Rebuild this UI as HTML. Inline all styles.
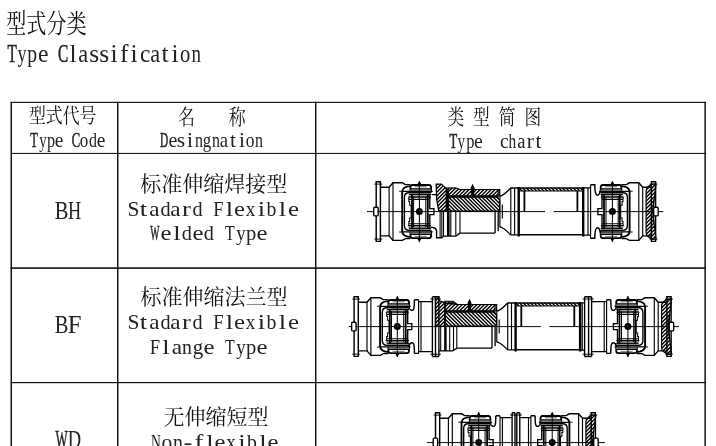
<!DOCTYPE html>
<html lang="zh"><head><meta charset="utf-8"><title>Type Classification</title>
<style>
html,body{margin:0;padding:0;background:#fff;overflow:hidden}
body{width:716px;height:446px}
#p{width:716px;height:446px;position:relative;overflow:hidden;background:#fff;font-family:"Liberation Serif",serif;color:#222}
.h{position:absolute;height:1px;background:#1c1c1c}
.v{position:absolute;width:1px;background:#1c1c1c}
.l{position:absolute;white-space:nowrap;font-family:"Liberation Serif",serif;will-change:transform}
.l i{display:inline-block;font-style:normal;width:var(--w);margin:0 var(--m);text-align:center}
svg{position:absolute;left:0;top:0}
</style></head><body><div id="p">
<div class="l" style="left:7.4px;top:39px;font-size:26.10px;line-height:29px;--w:78.30px;--m:-34.06px"><i style="transform:scaleX(0.583);-webkit-text-stroke:.55px #222">T</i><i style="transform:scaleX(0.694)">y</i><i style="transform:scaleX(0.755)">p</i><i style="transform:scaleX(0.907)">e</i><i>&nbsp;</i><i style="transform:scaleX(0.588);-webkit-text-stroke:.55px #222">C</i><i style="transform:scaleX(0.979)">l</i><i style="transform:scaleX(0.850)">a</i><i style="transform:scaleX(0.979)">s</i><i style="transform:scaleX(0.979)">s</i><i style="transform:scaleX(0.979)">i</i><i style="transform:scaleX(0.979)">f</i><i style="transform:scaleX(0.979)">i</i><i style="transform:scaleX(0.895)">c</i><i style="transform:scaleX(0.850)">a</i><i style="transform:scaleX(0.979)">t</i><i style="transform:scaleX(0.979)">i</i><i style="transform:scaleX(0.792)">o</i><i style="transform:scaleX(0.727)">n</i></div>
<div class="l" style="left:30px;top:127px;font-size:22.00px;line-height:25px;--w:66.00px;--m:-28.82px"><i style="transform:scaleX(0.567);-webkit-text-stroke:.55px #222">T</i><i style="transform:scaleX(0.675)">y</i><i style="transform:scaleX(0.735)">p</i><i style="transform:scaleX(0.883)">e</i><i>&nbsp;</i><i style="transform:scaleX(0.573);-webkit-text-stroke:.55px #222">C</i><i style="transform:scaleX(0.771)">o</i><i style="transform:scaleX(0.724)">d</i><i style="transform:scaleX(0.883)">e</i></div>
<div class="l" style="left:160.4px;top:127px;font-size:22.00px;line-height:25px;--w:66.00px;--m:-28.71px"><i style="transform:scaleX(0.513);-webkit-text-stroke:.55px #222">D</i><i style="transform:scaleX(0.905)">e</i><i style="transform:scaleX(0.977)">s</i><i style="transform:scaleX(0.977)">i</i><i style="transform:scaleX(0.725)">n</i><i style="transform:scaleX(0.765)">g</i><i style="transform:scaleX(0.725)">n</i><i style="transform:scaleX(0.848)">a</i><i style="transform:scaleX(0.977)">t</i><i style="transform:scaleX(0.977)">i</i><i style="transform:scaleX(0.790)">o</i><i style="transform:scaleX(0.725)">n</i></div>
<div class="l" style="left:449.3px;top:129px;font-size:21.60px;line-height:24px;--w:64.80px;--m:-28.15px"><i style="transform:scaleX(0.587);-webkit-text-stroke:.55px #222">T</i><i style="transform:scaleX(0.699)">y</i><i style="transform:scaleX(0.761)">p</i><i style="transform:scaleX(0.914)">e</i><i>&nbsp;</i><i>&nbsp;</i><i style="transform:scaleX(0.902)">c</i><i style="transform:scaleX(0.709)">h</i><i style="transform:scaleX(0.857)">a</i><i style="transform:scaleX(0.987)">r</i><i style="transform:scaleX(0.987)">t</i></div>
<div class="l" style="left:54.5px;top:196px;font-size:25.70px;line-height:29px;--w:77.10px;--m:-32.10px"><i style="transform:scaleX(0.801)">B</i><i style="transform:scaleX(0.711)">H</i></div>
<div class="l" style="left:54.5px;top:310px;font-size:25.70px;line-height:29px;--w:77.10px;--m:-32.10px"><i style="transform:scaleX(0.801)">B</i><i style="transform:scaleX(0.961)">F</i></div>
<div class="l" style="left:54.5px;top:425px;font-size:25.70px;line-height:29px;--w:77.10px;--m:-32.10px"><i style="transform:scaleX(0.501);-webkit-text-stroke:.55px #222">W</i><i style="transform:scaleX(0.722)">D</i></div>
<div class="l" style="left:127.7px;top:197px;font-size:21.00px;line-height:24px;--w:63.00px;--m:-26.18px"><i style="transform:scaleX(1.019)">S</i><i style="transform:scaleX(1.269)">t</i><i style="transform:scaleX(1.102)">a</i><i style="transform:scaleX(0.964)">d</i><i style="transform:scaleX(1.102)">a</i><i style="transform:scaleX(1.269)">r</i><i style="transform:scaleX(0.964)">d</i><i>&nbsp;</i><i style="transform:scaleX(0.886)">F</i><i style="transform:scaleX(1.269)">l</i><i style="transform:scaleX(1.176)">e</i><i style="transform:scaleX(0.909)">x</i><i style="transform:scaleX(1.269)">i</i><i style="transform:scaleX(0.942)">b</i><i style="transform:scaleX(1.269)">l</i><i style="transform:scaleX(1.176)">e</i></div>
<div class="l" style="left:149.7px;top:222px;font-size:20.60px;line-height:22px;--w:61.80px;--m:-25.59px"><i style="transform:scaleX(0.472);-webkit-text-stroke:.55px #222">W</i><i style="transform:scaleX(1.199)">e</i><i style="transform:scaleX(1.294)">l</i><i style="transform:scaleX(0.983)">d</i><i style="transform:scaleX(1.199)">e</i><i style="transform:scaleX(0.983)">d</i><i>&nbsp;</i><i style="transform:scaleX(0.770)">T</i><i style="transform:scaleX(0.917)">y</i><i>p</i><i style="transform:scaleX(1.199)">e</i></div>
<div class="l" style="left:127.7px;top:310px;font-size:21.00px;line-height:24px;--w:63.00px;--m:-26.18px"><i style="transform:scaleX(1.019)">S</i><i style="transform:scaleX(1.269)">t</i><i style="transform:scaleX(1.102)">a</i><i style="transform:scaleX(0.964)">d</i><i style="transform:scaleX(1.102)">a</i><i style="transform:scaleX(1.269)">r</i><i style="transform:scaleX(0.964)">d</i><i>&nbsp;</i><i style="transform:scaleX(0.886)">F</i><i style="transform:scaleX(1.269)">l</i><i style="transform:scaleX(1.176)">e</i><i style="transform:scaleX(0.909)">x</i><i style="transform:scaleX(1.269)">i</i><i style="transform:scaleX(0.942)">b</i><i style="transform:scaleX(1.269)">l</i><i style="transform:scaleX(1.176)">e</i></div>
<div class="l" style="left:149.7px;top:336px;font-size:20.60px;line-height:22px;--w:61.80px;--m:-25.59px"><i style="transform:scaleX(0.903)">F</i><i style="transform:scaleX(1.294)">l</i><i style="transform:scaleX(1.123)">a</i><i style="transform:scaleX(0.961)">n</i><i style="transform:scaleX(1.013)">g</i><i style="transform:scaleX(1.199)">e</i><i>&nbsp;</i><i style="transform:scaleX(0.770)">T</i><i style="transform:scaleX(0.917)">y</i><i>p</i><i style="transform:scaleX(1.199)">e</i></div>
<div class="l" style="left:150.7px;top:431px;font-size:20.60px;line-height:22px;--w:61.80px;--m:-25.59px"><i style="transform:scaleX(0.662)">N</i><i style="transform:scaleX(1.047)">o</i><i style="transform:scaleX(0.961)">n</i><i style="transform:scaleX(1.294)">-</i><i style="transform:scaleX(1.294)">f</i><i style="transform:scaleX(1.294)">l</i><i style="transform:scaleX(1.199)">e</i><i style="transform:scaleX(0.926)">x</i><i style="transform:scaleX(1.294)">i</i><i style="transform:scaleX(0.961)">b</i><i style="transform:scaleX(1.294)">l</i><i style="transform:scaleX(1.199)">e</i></div>
<svg width="716" height="446" viewBox="0 0 716 446">
<g fill="#111" font-family="&quot;Liberation Serif&quot;, &quot;Noto Serif CJK SC&quot;, serif"><rect x="10.55" y="101.8" width="695.35" height="1.15"/>
<rect x="10.55" y="152.9" width="695.35" height="1.05"/>
<rect x="10.55" y="267.3" width="695.35" height="1.60"/>
<rect x="10.55" y="382" width="695.35" height="1.20"/>
<rect x="10.55" y="101.85" width="1.45" height="345"/>
<rect x="117.00" y="101.85" width="1.45" height="345"/>
<rect x="315.00" y="101.85" width="1.45" height="345"/>
<rect x="704.40" y="101.85" width="1.50" height="345"/>
<text transform="translate(6.2 32.8) scale(1 1.303)" x="0" y="0" font-size="20.1" fill="#111">型式分类</text>
<text transform="translate(28.9 122.5) scale(1 1.213)" x="0" y="0" font-size="16.9" fill="#111">型式代号</text>
<text transform="translate(0 123.8) scale(1 1.243)" x="178.1 228.8" y="0" font-size="16.9" fill="#111">名称</text>
<text transform="translate(0 123.8) scale(1 1.257)" x="447.4 473.1 498.8 524.5" y="0" font-size="16.7" fill="#111">类型简图</text>
<text x="140.3" y="190.7" font-size="21" fill="#111">标准伸缩焊接型</text>
<text x="140.4" y="303.5" font-size="21" fill="#111">标准伸缩法兰型</text>
<text x="163.4" y="424" font-size="21" fill="#111">无伸缩短型</text></g>
<defs>
<pattern id="hA" width="2.6" height="2.6" patternUnits="userSpaceOnUse"><path d="M-.5,3.1L3.1,-.5M-.5,.5L.5,-.5M2.1,3.1L3.1,2.1" stroke="#000" stroke-width="1.14" fill="none"/></pattern>
<pattern id="hB" width="2.6" height="2.6" patternUnits="userSpaceOnUse"><path d="M-.5,-.5L3.1,3.1M-.5,2.1L.5,3.1M2.1,-.5L3.1,.5" stroke="#000" stroke-width="1.14" fill="none"/></pattern>
<pattern id="hC" width="2" height="2" patternUnits="userSpaceOnUse"><path d="M-.5,-.5L2.5,2.5M-.5,1.5L.5,2.5M1.5,-.5L2.5,.5" stroke="#000" stroke-width="0.96" fill="none"/></pattern>

<g id="yh"><path d="M-43.2,0V-29.8H-39V0" stroke-width="1.44"/><path d="M-45,-27.5H-37.3" stroke-width="0.96"/><path d="M-30.3,0V-24.3M-26.4,0V-28.8" stroke-width="1.14"/><path d="M-39,-24.3H-30.3L-26.4,-28.8H-17L-14,-27H-9" stroke-width="1.38"/><path d="M-8,-25.5C-12.5,-25.5 -17.2,-24 -17.2,-19.5V0" stroke-width="1.92"/><path d="M-20.3,-20.4H-17.2" stroke-width="0.96"/><path d="M-9,-20.5V-24.5Q-9,-26.6 -6.9,-26.6H9.7Q11.7,-26.6 11.7,-24V-19" stroke-width="1.8"/><path d="M-4.8,-24.9H7.3" stroke-width="1.32" stroke="#888"/><path d="M-9,-21.4H11.7" stroke-width="1.92" stroke="#999"/><path d="M-9,-22.7H11.7M-16.5,-20.2H13.3" stroke-width="1.32"/><path d="M11.7,-18.8H-10.5Q-15,-18.8 -15,-14V0" stroke-width="1.38"/><path d="M11.7,-17.1H-10.5" stroke-width="1.26"/><path d="M-11,-15.4H11M-11.5,-13.9H11.5M-10.6,-12.1H10.4" stroke-width="1.02"/><path d="M-10.6,-13.9V-10H-9.7V-6.4H-8.3V0" stroke-width="1.02"/><path d="M-7.4,-17.1V0M8.4,-17.1V0" stroke-width="1.8"/><path d="M-5.8,-15.4V0M6.4,-15.4V0" stroke-width="1.02"/><path d="M10.4,-17.1V-3H14.5V0" stroke-width="1.38"/><path d="M0,-30.3V0" stroke-width="1.02"/><path d="M-1.8,-27.5L0,-30.6L1.8,-27.5Z" fill="#000" stroke="none"/></g>
<g id="yk"><use href="#yh"/><use href="#yh" transform="scale(1,-1)"/><circle r="3.5" fill="#000" stroke="none"/><circle cx=".6" cy="-.3" r="1" fill="#555" stroke="none"/></g>
<g id="hk"><path d="M11.7,-19.6C11.9,-16 15.5,-15.3 16.4,-17.6C17.1,-19.5 17.1,-22 17.1,-26.8" stroke-width="1.44"/></g>
</defs>
<filter id="bl" x="-2%" y="-5%" width="104%" height="110%"><feConvolveMatrix order="3" kernelMatrix=".012 .084 .012 .084 .616 .084 .012 .084 .012" edgeMode="none"/></filter>
<g fill="none" stroke="#000" stroke-linecap="butt" stroke-linejoin="miter">
<g id="BH">
<use href="#yk" transform="translate(419.4 211.6)"/>
<use href="#yk" transform="translate(612.4 211.6) scale(-1,1)"/>
<path d="M367,211.6 H545 M553.5,211.6 H663.4" stroke-width="0.96"/>
<rect x="373.7" y="207.3" width="4.5" height="8.6" rx="1.2" fill="#fff" stroke-width="1.38"/>
<rect x="653.7" y="207.3" width="4.5" height="8.6" rx="1.2" fill="#fff" stroke-width="1.38"/>
<g id="sh">
<clipPath id="c1"><path d="M448.3,188.2L455.5,187.8L460,189.5L498.2,189.5L498.2,195.9L448.3,195.9Z"/></clipPath><path clip-path="url(#c1)" d="M435.80,196.90L445.90,186.80M439.50,196.90L449.60,186.80M443.20,196.90L453.30,186.80M446.90,196.90L457.00,186.80M450.60,196.90L460.70,186.80M454.30,196.90L464.40,186.80M458.00,196.90L468.10,186.80M461.70,196.90L471.80,186.80M465.40,196.90L475.50,186.80M469.10,196.90L479.20,186.80M472.80,196.90L482.90,186.80M476.50,196.90L486.60,186.80M480.20,196.90L490.30,186.80M483.90,196.90L494.00,186.80M487.60,196.90L497.70,186.80M491.30,196.90L501.40,186.80M495.00,196.90L505.10,186.80M498.70,196.90L508.80,186.80M502.40,196.90L512.50,186.80" stroke-width="1.44"/><path d="M448.3,188.2L455.5,187.8L460,189.5L498.2,189.5L498.2,195.9L448.3,195.9Z" stroke-width="1.2"/>
<path d="M446.4,196.5H498.6" stroke-width="0.84"/>
<clipPath id="c2"><path d="M448.3,197.1L497.6,197.1L499.6,199.6L499.6,211.2L448.3,211.2Z"/></clipPath><path clip-path="url(#c2)" d="M429.20,196.10L445.30,212.20M432.90,196.10L449.00,212.20M436.60,196.10L452.70,212.20M440.30,196.10L456.40,212.20M444.00,196.10L460.10,212.20M447.70,196.10L463.80,212.20M451.40,196.10L467.50,212.20M455.10,196.10L471.20,212.20M458.80,196.10L474.90,212.20M462.50,196.10L478.60,212.20M466.20,196.10L482.30,212.20M469.90,196.10L486.00,212.20M473.60,196.10L489.70,212.20M477.30,196.10L493.40,212.20M481.00,196.10L497.10,212.20M484.70,196.10L500.80,212.20M488.40,196.10L504.50,212.20M492.10,196.10L508.20,212.20M495.80,196.10L511.90,212.20M499.50,196.10L515.60,212.20M503.20,196.10L519.30,212.20" stroke-width="1.44"/><path d="M448.3,197.1L497.6,197.1L499.6,199.6L499.6,211.2L448.3,211.2Z" stroke-width="1.2"/>
<path d="M470.5,188.2L472.6,183.7L474.7,188.2L474.2,189.5V195.6H471V189.5Z" fill="#000" stroke="none"/>
<path d="M498.2,189.6H499.7V196.3M499.7,196.3C504.5,195.3 507,191.5 510.8,188H518.7M499.7,226.9C504.5,227.9 507,231.7 510.8,234.8H518.7" stroke-width="1.32"/>
<path d="M499.9,196.3V226.9M502.3,204.6V218.4M510.8,188V234.8M514.6,188V234.8" stroke-width="1.14"/>
<clipPath id="c3"><path d="M519.5,188L582.5,188L582.5,191.1L519.5,191.1Z"/></clipPath><path clip-path="url(#c3)" d="M511.00,187.00L516.10,192.10M514.60,187.00L519.70,192.10M518.20,187.00L523.30,192.10M521.80,187.00L526.90,192.10M525.40,187.00L530.50,192.10M529.00,187.00L534.10,192.10M532.60,187.00L537.70,192.10M536.20,187.00L541.30,192.10M539.80,187.00L544.90,192.10M543.40,187.00L548.50,192.10M547.00,187.00L552.10,192.10M550.60,187.00L555.70,192.10M554.20,187.00L559.30,192.10M557.80,187.00L562.90,192.10M561.40,187.00L566.50,192.10M565.00,187.00L570.10,192.10M568.60,187.00L573.70,192.10M572.20,187.00L577.30,192.10M575.80,187.00L580.90,192.10M579.40,187.00L584.50,192.10M583.00,187.00L588.10,192.10M586.60,187.00L591.70,192.10" stroke-width="1.38"/>
<path d="M518.7,188H583.2M518.7,234.8H583.2" stroke-width="1.38"/>
<path d="M519.5,191.1H582.5" stroke-width="1.02"/>
<path d="M518.7,187.1V236.6M583.2,187.1V236.6" stroke-width="2.4"/>
<path d="M524.4,191.1V211.5M577.4,191.1V211.5" stroke-width="1.8"/>
<path d="M460,233.1H495.1M495.1,211.5V233.1M498.2,211.5V231.3" stroke-width="1.32"/>
</g>
<clipPath id="c4"><path d="M436.2,184.1L441.3,184.1L445.2,187.8L446.4,189L446.4,210.9L438.8,210.9L436.6,199.3Z"/></clipPath><path clip-path="url(#c4)" d="M406.00,211.90L434.80,183.10M409.70,211.90L438.50,183.10M413.40,211.90L442.20,183.10M417.10,211.90L445.90,183.10M420.80,211.90L449.60,183.10M424.50,211.90L453.30,183.10M428.20,211.90L457.00,183.10M431.90,211.90L460.70,183.10M435.60,211.90L464.40,183.10M439.30,211.90L468.10,183.10M443.00,211.90L471.80,183.10M446.70,211.90L475.50,183.10M450.40,211.90L479.20,183.10" stroke-width="1.44"/><path d="M436.2,184.1L441.3,184.1L445.2,187.8L446.4,189L446.4,210.9L438.8,210.9L436.6,199.3Z" stroke-width="1.32"/>
<path d="M445.2,187.8L448.3,188.2" stroke-width="1.2"/>
<path d="M447.3,189V211.2" stroke-width="1.68"/>
<path d="M431.7,194.6H436.4" stroke-width="1.2"/>
<path d="M431.1,227.2C434,227.3 436.6,228.5 436.6,231.5V237.8H441.8L443.5,236.1H455.8L460,233.1" stroke-width="1.38"/>
<path d="M440.1,211.5V237.8M441.8,211.5V237.8M443.5,211.5V236.1M450.8,211.5V236.1M455.8,211.5V235.3M460,211.5V233.1" stroke-width="1.08"/>
<path d="M448.3,211.5V236.1" stroke-width="2.64"/>
<path d="M583.2,187.8H590.6M583.2,235.2H590.6" stroke-width="1.32"/>
<path d="M588,187.8V235.2M590.6,184.7V238.3" stroke-width="1.14"/>
<path d="M590.6,184.7H594.8C594.8,190 595.2,192.5 596,194C597,196.2 599.5,195.5 599.9,191.9M590.6,238.3H594.8C594.8,233 595.2,230.5 596,229C597,226.8 599.5,227.5 599.9,231.1" stroke-width="1.44"/>
<clipPath id="c5"><path d="M651.3,184.1L655.8,184.1L655.8,186.1C655.1,193.6 653.6,202.6 652.6,211.6C653.6,220.6 655.1,229.6 655.8,237.1L655.8,239.1L651.3,239.1L646.7,235.4L646.1,232.6L646.1,190.6L646.7,187.8Z"/></clipPath><path clip-path="url(#c5)" d="M585.00,240.10L642.00,183.10M588.70,240.10L645.70,183.10M592.40,240.10L649.40,183.10M596.10,240.10L653.10,183.10M599.80,240.10L656.80,183.10M603.50,240.10L660.50,183.10M607.20,240.10L664.20,183.10M610.90,240.10L667.90,183.10M614.60,240.10L671.60,183.10M618.30,240.10L675.30,183.10M622.00,240.10L679.00,183.10M625.70,240.10L682.70,183.10M629.40,240.10L686.40,183.10M633.10,240.10L690.10,183.10M636.80,240.10L693.80,183.10M640.50,240.10L697.50,183.10M644.20,240.10L701.20,183.10M647.90,240.10L704.90,183.10M651.60,240.10L708.60,183.10M655.30,240.10L712.30,183.10M659.00,240.10L716.00,183.10" stroke-width="1.44"/><path d="M651.3,184.1L655.8,184.1L655.8,186.1C655.1,193.6 653.6,202.6 652.6,211.6C653.6,220.6 655.1,229.6 655.8,237.1L655.8,239.1L651.3,239.1L646.7,235.4L646.1,232.6L646.1,190.6L646.7,187.8Z" stroke-width="1.2"/><path d="M653.7,199.6V208.6M653.7,214.6V223.6" stroke-width="1.08"/>
</g>
<g id="BF">
<use href="#yk" transform="translate(397.3 326.6) scale(1,1)"/><g transform="translate(397.3 326.6) scale(1,1)"><g transform="scale(1,1)"><use href="#hk"/><path d="M17.1,-26.8H21.3M21.3,-25H35.1" stroke-width="1.38"/><path d="M35.1,-29.9V0M38.2,-29.9V0M41.6,-29.9V0M35.1,-29.9H41.6" stroke-width="1.38"/><path d="M33.1,-27.6H43.6" stroke-width="0.96"/><path d="M21.3,-26.8V0M23.7,-25V0" stroke-width="1.14"/></g><g transform="scale(1,-1)"><use href="#hk"/><path d="M17.1,-26.8H21.3M21.3,-25H35.1" stroke-width="1.38"/><path d="M35.1,-29.9V0M38.2,-29.9V0M41.6,-29.9V0M35.1,-29.9H41.6" stroke-width="1.38"/><path d="M33.1,-27.6H43.6" stroke-width="0.96"/><path d="M21.3,-26.8V0M23.7,-25V0" stroke-width="1.14"/></g></g>
<use href="#yk" transform="translate(627.9 326.6) scale(-1,1)"/><g transform="translate(627.9 326.6) scale(-1,1)"><g transform="scale(1,1)"><use href="#hk"/><path d="M17.1,-26.8H21.3M21.3,-25H36.3" stroke-width="1.38"/><path d="M36.3,-29.9V0M39.3,-29.9V0M43.3,-29.9V0M36.3,-29.9H43.3" stroke-width="1.38"/><path d="M34.3,-27.6H45.3" stroke-width="0.96"/><path d="M21.3,-26.8V0M23.7,-25V0" stroke-width="1.14"/></g><g transform="scale(1,-1)"><use href="#hk"/><path d="M17.1,-26.8H21.3M21.3,-25H36.3" stroke-width="1.38"/><path d="M36.3,-29.9V0M39.3,-29.9V0M43.3,-29.9V0M36.3,-29.9H43.3" stroke-width="1.38"/><path d="M34.3,-27.6H45.3" stroke-width="0.96"/><path d="M21.3,-26.8V0M23.7,-25V0" stroke-width="1.14"/></g></g>
<path d="M348.7,326.6 H541 M549.5,326.6 H679" stroke-width="0.96"/>
<rect x="351.6" y="322.3" width="4.5" height="8.6" rx="1.2" fill="#fff" stroke-width="1.38"/>
<rect x="669.2" y="322.3" width="4.5" height="8.6" rx="1.2" fill="#fff" stroke-width="1.38"/>
<use href="#sh" transform="translate(-3.1 115)"/>
<clipPath id="c6"><path d="M435.5,296.7L438.9,296.7L438.9,300.8L444.2,302.4L444.8,304L444.8,326.3L435.5,326.3Z"/></clipPath><path clip-path="url(#c6)" d="M401.60,327.30L433.20,295.70M405.30,327.30L436.90,295.70M409.00,327.30L440.60,295.70M412.70,327.30L444.30,295.70M416.40,327.30L448.00,295.70M420.10,327.30L451.70,295.70M423.80,327.30L455.40,295.70M427.50,327.30L459.10,295.70M431.20,327.30L462.80,295.70M434.90,327.30L466.50,295.70M438.60,327.30L470.20,295.70M442.30,327.30L473.90,295.70M446.00,327.30L477.60,295.70" stroke-width="1.44"/><path d="M435.5,296.7L438.9,296.7L438.9,300.8L444.2,302.4L444.8,304L444.8,326.3L435.5,326.3Z" stroke-width="1.32"/>
<clipPath id="c7"><path d="M444.8,301.2L453.2,301.3L457,304.4L445.2,303.4Z"/></clipPath><path clip-path="url(#c7)" d="M438.30,305.40L443.50,300.20M442.00,305.40L447.20,300.20M445.70,305.40L450.90,300.20M449.40,305.40L454.60,300.20M453.10,305.40L458.30,300.20M456.80,305.40L462.00,300.20M460.50,305.40L465.70,300.20" stroke-width="1.44"/><path d="M444.8,301.2L453.2,301.3L457,304.4L445.2,303.4Z" stroke-width="1.08"/>
<path d="M438.9,350.9H452.5L456.8,348.3" stroke-width="1.38"/>
<path d="M440.7,326.6V350.9M449.7,326.6V350.9M453.5,326.6V350.4M456.8,326.6V348.3" stroke-width="1.08"/>
<path d="M445.4,326.6V350.9" stroke-width="2.52"/>
<path d="M580.1,302.8H584.5M580.1,350.2H584.5M582.2,302.8V350.2" stroke-width="1.2"/>
<clipPath id="c8"><path d="M666.8,299.1L671.3,299.1L671.3,301.1C670.6,308.6 669.1,317.6 668.1,326.6C669.1,335.6 670.6,344.6 671.3,352.1L671.3,354.1L666.8,354.1L662.2,350.4L661.6,347.6L661.6,305.6L662.2,302.8Z"/></clipPath><path clip-path="url(#c8)" d="M603.20,355.10L660.20,298.10M606.90,355.10L663.90,298.10M610.60,355.10L667.60,298.10M614.30,355.10L671.30,298.10M618.00,355.10L675.00,298.10M621.70,355.10L678.70,298.10M625.40,355.10L682.40,298.10M629.10,355.10L686.10,298.10M632.80,355.10L689.80,298.10M636.50,355.10L693.50,298.10M640.20,355.10L697.20,298.10M643.90,355.10L700.90,298.10M647.60,355.10L704.60,298.10M651.30,355.10L708.30,298.10M655.00,355.10L712.00,298.10M658.70,355.10L715.70,298.10M662.40,355.10L719.40,298.10M666.10,355.10L723.10,298.10M669.80,355.10L726.80,298.10M673.50,355.10L730.50,298.10" stroke-width="1.44"/><path d="M666.8,299.1L671.3,299.1L671.3,301.1C670.6,308.6 669.1,317.6 668.1,326.6C669.1,335.6 670.6,344.6 671.3,352.1L671.3,354.1L666.8,354.1L662.2,350.4L661.6,347.6L661.6,305.6L662.2,302.8Z" stroke-width="1.2"/><path d="M669.2,314.6V323.6M669.2,329.6V338.6" stroke-width="1.08"/>
</g>
<g id="WD">
<use href="#yk" transform="translate(478.7 442.6) scale(1,1)"/><g transform="translate(478.7 442.6) scale(1,1)"><g transform="scale(1,1)"><use href="#hk"/><path d="M17.1,-26.8H21.3M21.3,-25H33.4" stroke-width="1.38"/><path d="M33.4,-29.9V0M36.3,-29.9V0M33.4,-29.9H36.3" stroke-width="1.38"/><path d="M31.4,-27.6H38.3" stroke-width="0.96"/><path d="M21.3,-26.8V0M23.7,-25V0" stroke-width="1.14"/></g><g transform="scale(1,-1)"><use href="#hk"/><path d="M17.1,-26.8H21.3M21.3,-25H33.4" stroke-width="1.38"/><path d="M33.4,-29.9V0M36.3,-29.9V0M33.4,-29.9H36.3" stroke-width="1.38"/><path d="M31.4,-27.6H38.3" stroke-width="0.96"/><path d="M21.3,-26.8V0M23.7,-25V0" stroke-width="1.14"/></g></g>
<use href="#yk" transform="translate(552.2 442.6) scale(-1,1)"/><g transform="translate(552.2 442.6) scale(-1,1)"><g transform="scale(1,1)"><use href="#hk"/><path d="M17.1,-26.8H21.3M21.3,-25H32.4" stroke-width="1.38"/><path d="M32.4,-29.9V0M35.4,-29.9V0M32.4,-29.9H35.4" stroke-width="1.38"/><path d="M30.4,-27.6H37.4" stroke-width="0.96"/><path d="M21.3,-26.8V0M23.7,-25V0" stroke-width="1.14"/></g><g transform="scale(1,-1)"><use href="#hk"/><path d="M17.1,-26.8H21.3M21.3,-25H32.4" stroke-width="1.38"/><path d="M32.4,-29.9V0M35.4,-29.9V0M32.4,-29.9H35.4" stroke-width="1.38"/><path d="M30.4,-27.6H37.4" stroke-width="0.96"/><path d="M21.3,-26.8V0M23.7,-25V0" stroke-width="1.14"/></g></g>
<path d="M426.9,442.6 H605" stroke-width="0.96"/>
<rect x="433.2" y="438.1" width="4.5" height="8.6" rx="1.2" fill="#fff" stroke-width="1.38"/>
<rect x="593.7" y="438.1" width="4.5" height="8.6" rx="1.2" fill="#fff" stroke-width="1.38"/>
<clipPath id="c9"><path d="M591.1,415.1L595.6,415.1L595.6,417.1C594.9,424.6 593.4,433.6 592.4,442.6C593.4,451.6 594.9,460.6 595.6,468.1L595.6,470.1L591.1,470.1L586.5,466.4L585.9,463.6L585.9,421.6L586.5,418.8Z"/></clipPath><path clip-path="url(#c9)" d="M527.90,471.10L584.90,414.10M531.60,471.10L588.60,414.10M535.30,471.10L592.30,414.10M539.00,471.10L596.00,414.10M542.70,471.10L599.70,414.10M546.40,471.10L603.40,414.10M550.10,471.10L607.10,414.10M553.80,471.10L610.80,414.10M557.50,471.10L614.50,414.10M561.20,471.10L618.20,414.10M564.90,471.10L621.90,414.10M568.60,471.10L625.60,414.10M572.30,471.10L629.30,414.10M576.00,471.10L633.00,414.10M579.70,471.10L636.70,414.10M583.40,471.10L640.40,414.10M587.10,471.10L644.10,414.10M590.80,471.10L647.80,414.10M594.50,471.10L651.50,414.10M598.20,471.10L655.20,414.10" stroke-width="1.44"/><path d="M591.1,415.1L595.6,415.1L595.6,417.1C594.9,424.6 593.4,433.6 592.4,442.6C593.4,451.6 594.9,460.6 595.6,468.1L595.6,470.1L591.1,470.1L586.5,466.4L585.9,463.6L585.9,421.6L586.5,418.8Z" stroke-width="1.2"/><path d="M593.5,430.6V439.6M593.5,445.6V454.6" stroke-width="1.08"/>
</g>
</g>

</svg>
</div></body></html>
